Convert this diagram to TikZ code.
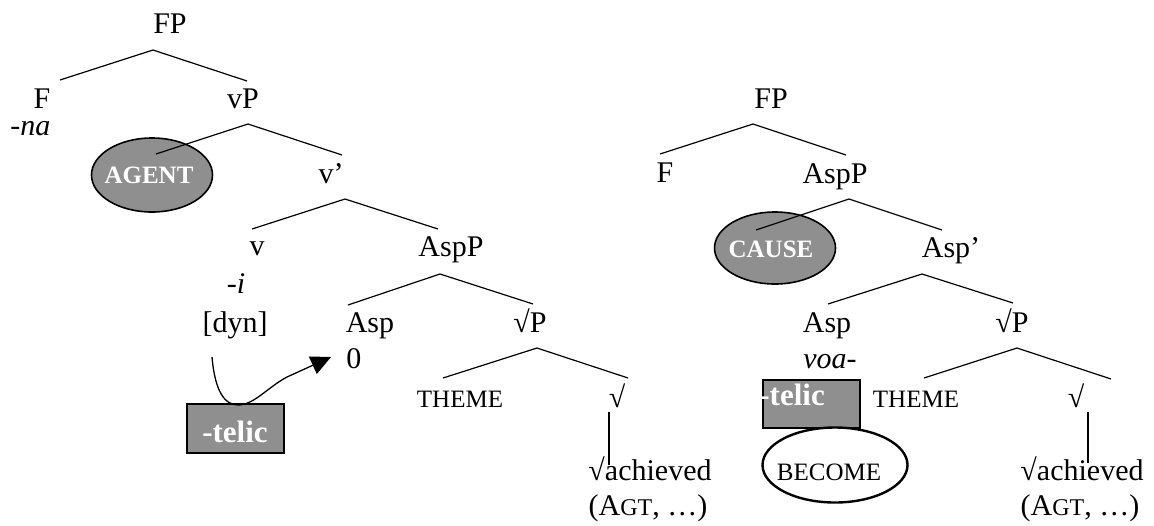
\documentclass[tikz,border=0pt]{standalone}
\usepackage{fontspec}
\setmainfont{Liberation Serif}
\usetikzlibrary{arrows.meta,shapes.geometric}
\definecolor{boxgray}{rgb}{0.56,0.56,0.56}
\begin{document}
\begin{tikzpicture}[x=0.5pt,y=-0.5pt,
  lbl/.style={anchor=base,inner sep=0,font=\fontsize{15}{18}\selectfont},
  lblw/.style={anchor=base west,inner sep=0,font=\fontsize{15}{18}\selectfont\itshape},
  sm/.style={anchor=base,inner sep=0,font=\fontsize{12.5}{15}\selectfont},
  branch/.style={line width=0.6pt},
  oval/.style={ellipse,draw,fill=boxgray,line width=0.8pt,inner sep=0,
     text=white,font=\bfseries\fontsize{12.5}{15}\selectfont},
  telicbox/.style={rectangle,draw,fill=boxgray,line width=0.8pt,inner sep=0,
     minimum width=48.5pt,minimum height=24.5pt},
  telictext/.style={inner sep=0,text=white,font=\bfseries\fontsize{15.5}{18}\selectfont}]
\useasboundingbox (0,0) rectangle (1154,525);

% ---------- left tree ----------
\node[lbl] (FPa) at (170,33) {FP};
\node[lbl] (Fa) at (42,108) {F};
\node[lbl] (vPa) at (243,108) {vP};
\node[lblw] (na) at (10,135) {-na};
\node[oval,minimum width=60.5pt,minimum height=37pt] (agent) at (152,175) {};
\node[anchor=base,inner sep=0,text=white,font=\bfseries\fontsize{12.5}{15}\selectfont] (agentt) at (149,183) {AGENT};
\node[lbl] (vbar) at (331,183) {v’};
\node[lbl] (va) at (257,255) {v};
\node[lbl] (AspPa) at (451,256) {AspP};
\node[lbl,font=\fontsize{15}{18}\selectfont\itshape] (ia) at (236,293) {-i};
\node[lbl] (dyn) at (235,332) {[dyn]};
\node[lbl] (Aspa) at (370,332) {Asp};
\node[lbl] (rPa) at (530,332) {√P};
\node[anchor=base west,inner sep=0,font=\fontsize{15}{18}\selectfont] (zero) at (346,368) {0};
\node[sm] (THa) at (460,407) {THEME};
\node[lbl] (ra) at (617,407) {√};
\node[lbl] (acha) at (650,480) {√achieved};
\node[lbl] (agta) at (648,515) {(A{\fontsize{12}{14}\selectfont GT}, …)};
\node[telicbox] (telica) at (235.5,428.5) {};
\node[telictext,anchor=base] (telicta) at (235,442) {-telic};

% branches left
\coordinate (a1l) at (60,80);   \coordinate (a1t) at (153,50);  \coordinate (a1r) at (247,81);
\coordinate (a2l) at (156,154); \coordinate (a2t) at (248,124); \coordinate (a2r) at (342,155);
\coordinate (a3l) at (252,229); \coordinate (a3t) at (345,199); \coordinate (a3r) at (438,229);
\coordinate (a4l) at (348,305); \coordinate (a4t) at (440,274); \coordinate (a4r) at (533,304);
\coordinate (a5l) at (443,378); \coordinate (a5t) at (537,348); \coordinate (a5r) at (628,378);
\coordinate (a6t) at (609,412); \coordinate (a6b) at (609,465);
\draw[branch] (a1l) -- (a1t) -- (a1r);
\draw[branch] (a2l) -- (a2t) -- (a2r);
\draw[branch] (a3l) -- (a3t) -- (a3r);
\draw[branch] (a4l) -- (a4t) -- (a4r);
\draw[branch] (a5l) -- (a5t) -- (a5r);
\draw[branch] (a6t) -- (a6b);

% curved arrow
\coordinate (arrS) at (212,357);
\coordinate (arrB) at (238,405);
\coordinate (arrM) at (287,377);
\coordinate (arrT) at (331,357);
\draw[line width=0.65pt,-{Triangle[length=10pt,width=9.5pt]}]
  (arrS) .. controls (215,392) and (225,405) .. (arrB)
         .. controls (254,405) and (268,387) .. (arrM) -- (arrT);

% ---------- right tree ----------
\node[lbl] (FPb) at (771,108) {FP};
\node[lbl] (Fb) at (665,182) {F};
\node[lbl] (AspPb) at (835,183) {AspP};
\node[oval,minimum width=60.5pt,minimum height=36pt] (cause) at (775,248) {};
\node[anchor=base,inner sep=0,text=white,font=\bfseries\fontsize{12.5}{15}\selectfont] (causet) at (771,257) {CAUSE};
\node[lbl] (Aspbar) at (951,257) {Asp’};
\node[lbl] (Aspb) at (827,332) {Asp};
\node[lbl] (rPb) at (1012,332) {√P};
\node[lblw] (voa) at (803,368) {voa-};
\node[telicbox,minimum height=24pt] (telicb) at (811.5,404) {};
\node[telictext,anchor=base west] (telictb) at (759,405) {-telic};
\node[sm] (THb) at (916,407) {THEME};
\node[lbl] (rb) at (1076,407) {√};
\node[ellipse,draw,line width=1.2pt,fill=white,minimum width=72.5pt,minimum height=37.5pt,inner sep=0] (become) at (835,465) {};
\node[sm] (becomet) at (829,480) {BECOME};
\node[lbl] (achb) at (1082,480) {√achieved};
\node[lbl] (agtb) at (1080,515) {(A{\fontsize{12}{14}\selectfont GT}, …)};

\coordinate (b1l) at (660,154); \coordinate (b1t) at (753,124); \coordinate (b1r) at (846,155);
\coordinate (b2l) at (756,230); \coordinate (b2t) at (849,199); \coordinate (b2r) at (942,230);
\coordinate (b3l) at (828,304); \coordinate (b3t) at (922,274); \coordinate (b3r) at (1013,303);
\coordinate (b4l) at (924,378); \coordinate (b4t) at (1017,348); \coordinate (b4r) at (1111,379);
\coordinate (b5t) at (1088,412); \coordinate (b5b) at (1088,463);
\draw[branch] (b1l) -- (b1t) -- (b1r);
\draw[branch] (b2l) -- (b2t) -- (b2r);
\draw[branch] (b3l) -- (b3t) -- (b3r);
\draw[branch] (b4l) -- (b4t) -- (b4r);
\draw[branch] (b5t) -- (b5b);
\end{tikzpicture}
\end{document}
